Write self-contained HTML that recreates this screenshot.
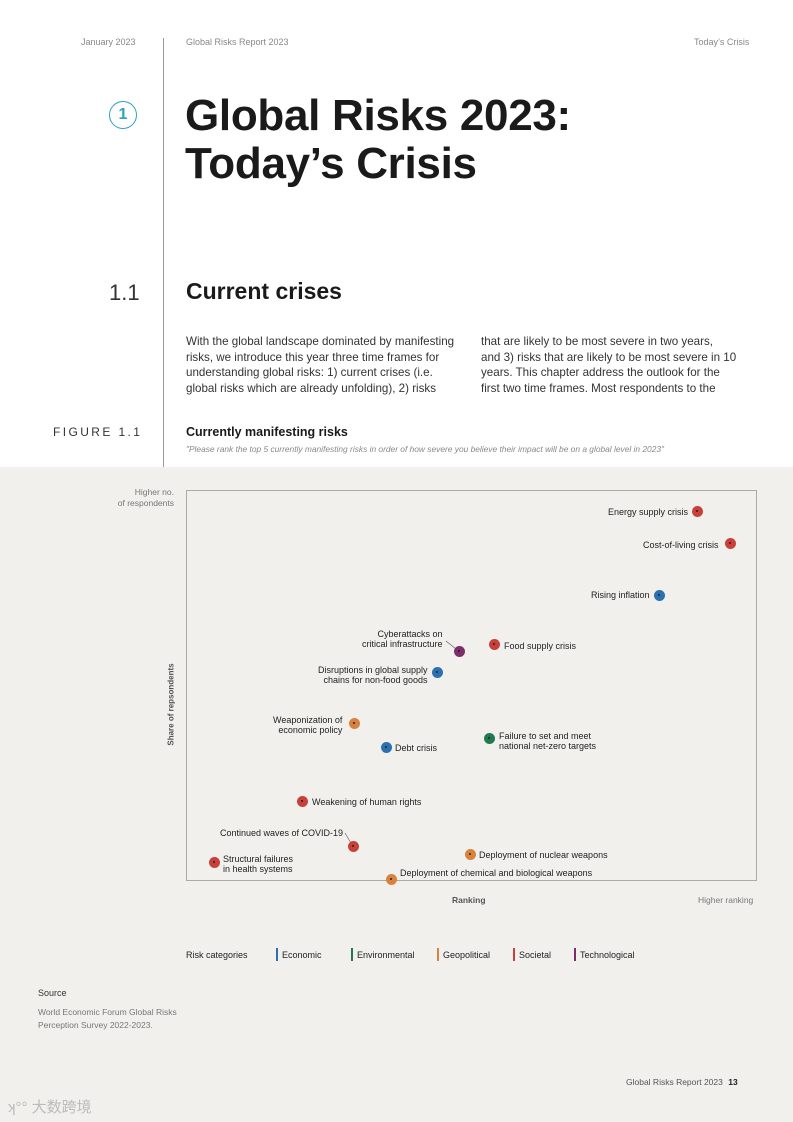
<!DOCTYPE html>
<html><head><meta charset="utf-8"><style>
body{margin:0;width:793px;height:1122px;position:relative;background:#fff;font-family:"Liberation Sans",sans-serif;color:#222;overflow:hidden}
.a{position:absolute;white-space:nowrap}
.s{font-size:9px;color:#222;line-height:10px}
.d{position:absolute;width:11px;height:11px;border-radius:50%;margin:-5.5px 0 0 -5.5px}
.d::after{content:"";position:absolute;left:4.5px;top:4.5px;width:2px;height:2px;background:#222;border-radius:50%}
.R{background:#c9403a}.B{background:#2b70b0}.G{background:#1f7a50}.O{background:#d8823e}.P{background:#7b2d6c}
.lg{position:absolute;top:948px;width:2px;height:13px}
</style></head><body>
<div class="a" style="left:0;top:467px;width:793px;height:655px;background:#f1f0ed"></div>
<div class="a" style="left:163px;top:38px;width:1px;height:429px;background:#999"></div>
<div class="a" style="left:81px;top:37px;font-size:9px;color:#888">January 2023</div>
<div class="a" style="left:186px;top:37px;font-size:9px;color:#888">Global Risks Report 2023</div>
<div class="a" style="left:694px;top:37px;font-size:9px;color:#888">Today’s Crisis</div>
<div class="a" style="left:109px;top:101px;width:26px;height:26px;border:1.5px solid #2aa3c0;border-radius:50%;color:#2aa3c0;font-size:16px;text-align:center;line-height:26px;font-weight:bold">1</div>
<div class="a" style="left:185px;top:92px;font-size:44px;font-weight:bold;line-height:48px;letter-spacing:-0.3px;color:#1a1a1a">Global Risks 2023:<br>Today’s Crisis</div>
<div class="a" style="left:109px;top:280px;font-size:22px;color:#333">1.1</div>
<div class="a" style="left:186px;top:278px;font-size:23px;font-weight:bold;color:#1a1a1a">Current crises</div>
<div class="a" style="left:186px;top:334px;font-size:11.6px;line-height:15.5px;color:#333">With the global landscape dominated by manifesting<br>risks, we introduce this year three time frames for<br>understanding global risks: 1) current crises (i.e.<br>global risks which are already unfolding), 2) risks</div>
<div class="a" style="left:481px;top:334px;font-size:11.6px;line-height:15.5px;color:#333">that are likely to be most severe in two years,<br>and 3) risks that are likely to be most severe in 10<br>years. This chapter address the outlook for the<br>first two time frames. Most respondents to the</div>
<div class="a" style="left:53px;top:425px;font-size:12px;letter-spacing:2.4px;color:#333">FIGURE 1.1</div>
<div class="a" style="left:186px;top:425px;font-size:12.5px;font-weight:bold;color:#1a1a1a">Currently manifesting risks</div>
<div class="a" style="left:186px;top:444px;font-size:8.4px;font-style:italic;color:#888">"Please rank the top 5 currently manifesting risks in order of how severe you believe their impact will be on a global level in 2023"</div>
<div class="a" style="left:186px;top:490px;width:569px;height:389px;border:1px solid #aaa"></div>
<div class="a" style="left:100px;top:487px;width:74px;text-align:right;font-size:8.5px;line-height:11px;color:#777">Higher no.<br>of respondents</div>
<div class="a" style="left:130px;top:700px;font-size:8px;font-weight:bold;color:#555;transform:rotate(-90deg);transform-origin:center">Share of repsondents</div>
<div class="a" style="left:452px;top:895px;font-size:8.5px;font-weight:bold;color:#555">Ranking</div>
<div class="a" style="left:698px;top:895px;font-size:8.5px;color:#777">Higher ranking</div>
<svg class="a" style="left:0;top:0" width="793" height="1122"><g stroke="#555" stroke-width="0.6"><line x1="446" y1="641" x2="456" y2="649"/><line x1="345" y1="833" x2="351" y2="843"/></g></svg>
<div class="d R" style="left:697px;top:511px"></div><div class="a s" style="left:608px;top:507px">Energy supply crisis</div>
<div class="d R" style="left:730px;top:543px"></div><div class="a s" style="left:643px;top:540px">Cost-of-living crisis</div>
<div class="d B" style="left:659px;top:595px"></div><div class="a s" style="left:591px;top:590px">Rising inflation</div>
<div class="d P" style="left:459px;top:651px"></div><div class="a s" style="left:362px;top:629px;text-align:right">Cyberattacks on<br>critical infrastructure</div>
<div class="d R" style="left:494px;top:644px"></div><div class="a s" style="left:504px;top:641px">Food supply crisis</div>
<div class="d B" style="left:437px;top:672px"></div><div class="a s" style="left:318px;top:665px;text-align:right">Disruptions in global supply<br>chains for non-food goods</div>
<div class="d O" style="left:354px;top:723px"></div><div class="a s" style="left:273px;top:715px;text-align:right">Weaponization of<br>economic policy</div>
<div class="d B" style="left:386px;top:747px"></div><div class="a s" style="left:395px;top:743px">Debt crisis</div>
<div class="d G" style="left:489px;top:738px"></div><div class="a s" style="left:499px;top:731px">Failure to set and meet<br>national net-zero targets</div>
<div class="d R" style="left:302px;top:801px"></div><div class="a s" style="left:312px;top:797px">Weakening of human rights</div>
<div class="d R" style="left:353px;top:846px"></div><div class="a s" style="left:220px;top:828px">Continued waves of COVID-19</div>
<div class="d R" style="left:214px;top:862px"></div><div class="a s" style="left:223px;top:854px">Structural failures<br>in health systems</div>
<div class="d O" style="left:470px;top:854px"></div><div class="a s" style="left:479px;top:850px">Deployment of nuclear weapons</div>
<div class="d O" style="left:391px;top:879px"></div><div class="a s" style="left:400px;top:868px">Deployment of chemical and biological weapons</div>
<div class="a s" style="left:186px;top:950px">Risk categories</div>
<div class="lg" style="left:276px;background:#2b70b0"></div><div class="a s" style="left:282px;top:950px">Economic</div>
<div class="lg" style="left:351px;background:#1f7a50"></div><div class="a s" style="left:357px;top:950px">Environmental</div>
<div class="lg" style="left:437px;background:#d8823e"></div><div class="a s" style="left:443px;top:950px">Geopolitical</div>
<div class="lg" style="left:513px;background:#c9403a"></div><div class="a s" style="left:519px;top:950px">Societal</div>
<div class="lg" style="left:574px;background:#7b2d6c"></div><div class="a s" style="left:580px;top:950px">Technological</div>
<div class="a" style="left:38px;top:988px;font-size:9px;color:#333">Source</div>
<div class="a" style="left:38px;top:1006px;font-size:8.5px;line-height:13px;color:#777">World Economic Forum Global Risks<br>Perception Survey 2022-2023.</div>
<div class="a" style="left:626px;top:1077px;font-size:8.5px;color:#555">Global Risks Report 2023 <b style="color:#222;margin-left:3px">13</b></div>
<div class="a" style="left:8px;top:1096px;font-size:15px;color:#bbb;font-family:'Liberation Sans','Noto Sans CJK SC',sans-serif">ʞ°° 大数跨境</div>
</body></html>
